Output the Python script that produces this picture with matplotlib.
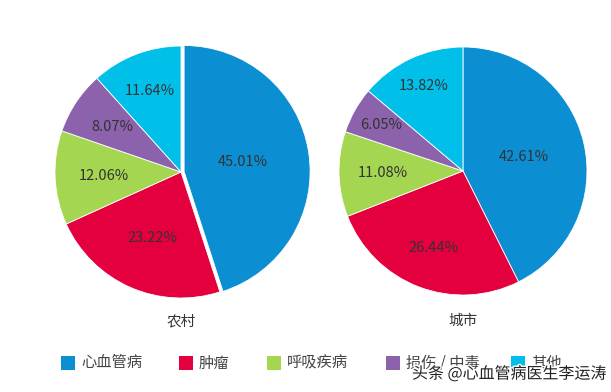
import matplotlib.pyplot as plt
from matplotlib.patches import Rectangle
import matplotlib.patheffects as pe

plt.rcParams['font.family'] = ['Noto Sans CJK SC', 'DejaVu Sans']

categories = ['心血管病', '肿瘤', '呼吸疾病', '损伤 / 中毒', '其他']
rural = [45.01, 23.22, 12.06, 8.07, 11.64]
urban = [42.61, 26.44, 11.08, 6.05, 13.82]
titles = ['农村', '城市']
colors = ['#0b8ed2', '#e4003e', '#a5d651', '#8c62ad', '#00c0ea']

W, H = 611, 392
fig = plt.figure(figsize=(W / 100, H / 100), dpi=100)
fig.patch.set_facecolor('white')


def pie_axes(cx, cy, r):
    return fig.add_axes([(cx - r) / W, 1 - (cy + r) / H, 2 * r / W, 2 * r / H])


# (values, centre x, centre y, radius px, explode, label distances)
specs = [(rural, 181, 172, 126, [0.025, 0, 0, 0, 0], [0.48, 0.57, 0.61, 0.65, 0.69]),
         (urban, 463, 171, 124, [0, 0, 0, 0, 0], [0.50, 0.665, 0.65, 0.76, 0.76])]

for (vals, cx, cy, r, expl, dists), title in zip(specs, titles):
    ax = pie_axes(cx, cy, r)
    wedges, texts, autotexts = ax.pie(
        vals, colors=colors, startangle=90, counterclock=False,
        explode=expl, autopct='%.2f%%', pctdistance=0.6,
        wedgeprops=dict(edgecolor='white', linewidth=0.6),
        textprops=dict(fontsize=10.5, color='#333333'))
    for t, v, d in zip(autotexts, vals, dists):
        t.set_text('%.2f%%' % v)
        x, y = t.get_position()
        t.set_position((x * d / 0.6, y * d / 0.6))
    ax.set_xlim(-1, 1)
    ax.set_ylim(-1, 1)
    ax.set_aspect('equal')
    ax.axis('off')
    fig.text(cx / W, 1 - 321 / H, title, ha='center', va='center',
             fontsize=10.5, color='#333333')

# legend
sq_x = [61, 179, 267, 386, 511]
ly = 363
for x, c, lab in zip(sq_x, colors, categories):
    fig.patches.append(Rectangle((x / W, 1 - (ly + 7) / H), 14 / W, 14 / H,
                                 transform=fig.transFigure, facecolor=c,
                                 edgecolor='none'))
    fig.text((x + 20) / W, 1 - ly / H, lab, ha='left', va='center',
             fontsize=11, color='#444444')

# watermark
fig.text(412 / W, 1 - 374 / H, '头条 @心血管病医生李运涛', ha='left', va='center',
         fontsize=11.5, color='#222222',
         path_effects=[pe.withStroke(linewidth=2, foreground='white')])

fig.savefig('out.png', dpi=100, facecolor='white')
